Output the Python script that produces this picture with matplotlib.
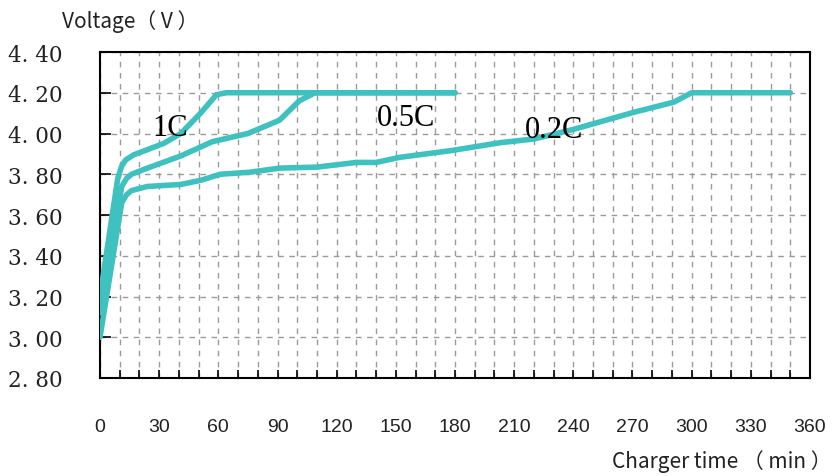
"""Li-ion charge curves at 1C / 0.5C / 0.2C, redrawn from a datasheet plot."""

import matplotlib

matplotlib.use("Agg")
import matplotlib.pyplot as plt
from matplotlib.ticker import MultipleLocator, FuncFormatter

# charge time (min) vs cell voltage (V)
t_1c = [0, 9, 11, 13, 17, 32, 41, 51, 59, 64, 180]
v_1c = [3.20, 3.78, 3.84, 3.87, 3.895, 3.95, 4.00, 4.10, 4.19, 4.20, 4.20]

t_05c = [0, 11, 13.5, 16, 24, 41, 57, 75, 91, 101, 109, 180]
v_05c = [3.12, 3.74, 3.78, 3.80, 3.83, 3.89, 3.96, 4.00, 4.065, 4.16, 4.20, 4.20]

t_02c = [0, 11, 13.5, 16, 24, 41, 51, 61, 76, 91, 110, 130, 140, 152, 178,
         203, 220, 240, 271, 291, 300, 350]
v_02c = [3.00, 3.66, 3.70, 3.72, 3.74, 3.75, 3.77, 3.80, 3.81, 3.83, 3.835,
         3.858, 3.858, 3.883, 3.916, 3.955, 3.973, 4.02, 4.105, 4.154, 4.20, 4.20]

curve_labels = ["1C", "0.5C", "0.2C"]
label_pos = [(35.5, 4.03), (155, 4.08), (230, 4.02)]

TEAL = "#3fc1c0"

fig = plt.figure(figsize=(8.33, 4.77), dpi=100)
ax = fig.add_axes([100 / 833, 98 / 477, 710 / 833, 326 / 477])

for t, v in [(t_1c, v_1c), (t_05c, v_05c), (t_02c, v_02c)]:
    ax.plot(t, v, color=TEAL, lw=4.0, solid_capstyle="round", solid_joinstyle="round", zorder=3)

for name, (x, y) in zip(curve_labels, label_pos):
    ax.text(x, y, name, family="Liberation Serif", fontsize=22, ha="center", va="center", zorder=4)

ax.set_xlim(0, 360)
ax.set_ylim(2.8, 4.4)
ax.xaxis.set_major_locator(MultipleLocator(30))
ax.xaxis.set_minor_locator(MultipleLocator(10))
ax.yaxis.set_major_locator(MultipleLocator(0.2))
ax.yaxis.set_major_formatter(FuncFormatter(lambda v, _: f"{v:.2f}".replace(".", ". ")))

ax.grid(which="both", axis="x", color="#9a9a9a", ls=(0, (4, 4)), lw=1.0)
ax.grid(which="major", axis="y", color="#9a9a9a", ls=(0, (4, 4)), lw=1.0)

ax.tick_params(axis="x", which="both", direction="in", length=6, width=1.2,
               pad=29, labelsize=14)
ax.tick_params(axis="y", which="major", direction="in", length=8, width=1.2,
               pad=27, labelsize=15.5)
for lab in ax.get_xticklabels():
    lab.set_family("Liberation Sans")
    lab.set_color("#222222")
for lab in ax.get_yticklabels():
    lab.set_family("DejaVu Serif")
    lab.set_color("#222222")

for s in ax.spines.values():
    s.set_linewidth(1.5)

fam = ["Noto Sans CJK SC", "DejaVu Sans"]
fig.text(62 / 833, 1 - 22 / 477, "Voltage（ V ）", family=fam, fontsize=15,
         ha="left", va="center", color="#222222")
fig.text(832 / 833, 1 - 462 / 477, "Charger time （ min ）", family=fam, fontsize=15,
         ha="right", va="center", color="#222222")

fig.savefig("out.png", dpi=100)
